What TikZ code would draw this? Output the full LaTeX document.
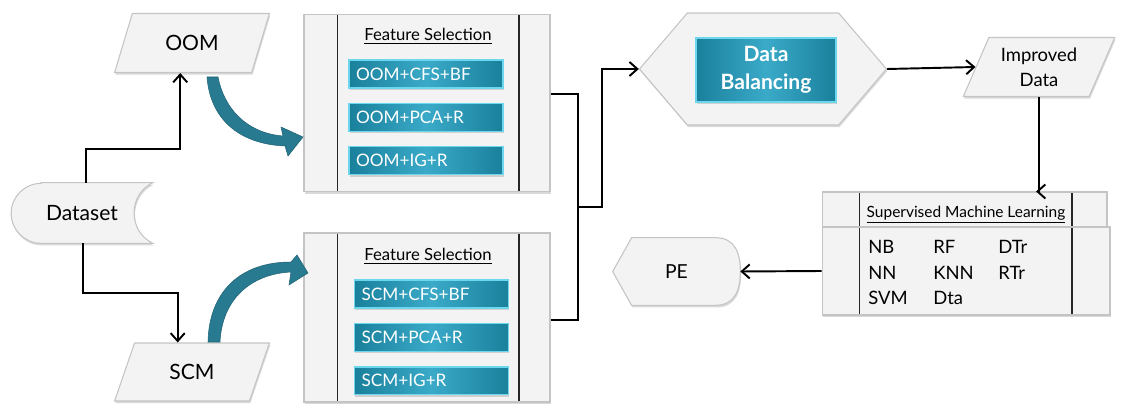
\documentclass[tikz,border=0pt]{standalone}
\usepackage{fontspec}
\setmainfont{Lato}
\usetikzlibrary{positioning,arrows.meta,calc,shapes.geometric,shapes.symbols,shadows}
\pgfdeclarelayer{background}
\pgfsetlayers{background,main}
\definecolor{boxgray}{RGB}{243,243,243}
\definecolor{edgegray}{RGB}{196,196,196}
\definecolor{tealdark}{RGB}{26,128,156}
\definecolor{tealmid}{RGB}{58,170,200}
\definecolor{tealedge}{RGB}{108,214,236}
\definecolor{arrteal}{RGB}{40,122,144}
\newcommand{\barleft}{33}
\newcommand{\barright}{31}

\begin{document}
\begin{tikzpicture}[x=0.02cm, y=-0.02cm,
    node distance=0.28cm,
    softbox/.style={fill=boxgray, draw=edgegray, line width=0.6pt,
      drop shadow={opacity=0.3, shadow xshift=0.5pt, shadow yshift=-1.2pt}},
    para/.style={softbox, trapezium, trapezium stretches=true,
      trapezium left angle=66, trapezium right angle=114,
      inner sep=1pt, align=center},
    barline/.style={draw=black!85, line width=0.6pt},
    bars/.style={path picture={
        \draw[barline] ($(path picture bounding box.north west)+(\barleft,0)$) -- ($(path picture bounding box.south west)+(\barleft,0)$);
        \draw[barline] ($(path picture bounding box.north east)-(\barright,0)$) -- ($(path picture bounding box.south east)-(\barright,0)$);}},
    fsbox/.style={softbox, rectangle, minimum width=4.92cm, bars},
    tealbox/.style={rectangle, draw=tealedge, line width=0.8pt, text=white,
      left color=tealdark, right color=tealdark, middle color=tealmid,
      drop shadow={opacity=0.3, shadow xshift=0.5pt, shadow yshift=-1pt}},
    fsitem/.style={tealbox, text width=2.8cm, minimum height=0.56cm,
      inner xsep=0.14cm, inner ysep=0pt, align=left,
      font=\fontsize{9.8}{11}\selectfont},
    headtxt/.style={font=\fontsize{9.5}{11}\selectfont, inner sep=1pt},
    algo/.style={anchor=west, inner sep=0pt, font=\fontsize{10.5}{12}\selectfont},
    link/.style={draw=black, line width=1.1pt},
    conn/.style={link, -{Straight Barb[length=4.5pt, width=8pt]}},
    curved/.style={fill=arrteal, draw=arrteal!80!black, line width=0.3pt}
  ]
    \useasboundingbox (0,0) rectangle (1130,412);

    \node[para, minimum width=3.1cm, minimum height=1.18cm, font=\large] (oom) at (192,43) {OOM};
    \node[para, minimum width=3.1cm, minimum height=1.16cm, font=\large] (scm) at (192,372) {SCM};
    \node[minimum width=2.82cm, minimum height=1.2cm, font=\large] (dataset) at (82,213) {Dataset};

    \node[fsbox, minimum height=3.54cm] (fs1) at (427,103) {};
    \node[headtxt] (fs1head) at (428,36) {\underline{Feature Selection}};
    \node[fsitem] (oomcfs) at (426,74) {OOM+CFS+BF};
    \node[fsitem, below=of oomcfs] (oompca) {OOM+PCA+R};
    \node[fsitem, below=of oompca] (oomig) {OOM+IG+R};

    \node[fsbox, minimum height=3.38cm] (fs2) at (427,317.5) {};
    \node[headtxt] (fs2head) at (428,256) {\underline{Feature Selection}};
    \node[fsitem] (scmcfs) at (431.5,294) {SCM+CFS+BF};
    \node[fsitem, below=of scmcfs] (scmpca) {SCM+PCA+R};
    \node[fsitem, below=of scmpca] (scmig) {SCM+IG+R};

    \node[softbox, signal, signal to=west and east, signal pointer angle=99,
      minimum width=4.94cm, minimum height=2.24cm] (bal) at (763,69) {};
    \node[tealbox, minimum width=2.8cm, minimum height=1.28cm, align=center,
      font=\bfseries\fontsize{12}{16}\selectfont] (baltxt) at (766,70) {Data\\Balancing};

    \node[para, trapezium left angle=64, trapezium right angle=116,
      minimum width=3.04cm, minimum height=1.18cm,
      font=\fontsize{10.5}{14}\selectfont] (impr) at (1039,67) {Improved\\Data};

    \renewcommand{\barleft}{37}\renewcommand{\barright}{35}
    \node[softbox, rectangle, minimum width=5.7cm, minimum height=0.7cm, bars] (smltop) at (964.5,209.5) {};
    \renewcommand{\barright}{38}
    \node[softbox, rectangle, minimum width=5.76cm, minimum height=1.76cm, bars] (sml) at (966,271) {};
    \node[headtxt, font=\fontsize{8.8}{10}\selectfont] (smlhead) at (966,215) {\underline{Supervised Machine Learning}};
    \node[algo] (nb) at (868,247) {NB};
    \node[algo] (rf) at (933,247) {RF};
    \node[algo] (dtr) at (998,247) {DTr};
    \node[algo] (nn) at (868,273) {NN};
    \node[algo] (knn) at (933,273) {KNN};
    \node[algo] (rtr) at (998,273) {RTr};
    \node[algo] (svm) at (868,298) {SVM};
    \node[algo] (dta) at (933,298) {Dta};

    \node[minimum width=2.54cm, minimum height=1.34cm, font=\fontsize{11}{13}\selectfont] (pe) at (676.5,271.5) {PE};

    \begin{pgfonlayer}{background}
      \filldraw[softbox] ($(dataset.north west)+(30,0)$) -- (dataset.north east)
        .. controls +(-25,12) and +(-25,-12) .. (dataset.south east)
        -- ($(dataset.south west)+(30,0)$) arc[start angle=270, end angle=90, radius=0.6cm] -- cycle;
      \filldraw[softbox] (pe.west) -- ($(pe.north west)+(19,0)$) -- ($(pe.north east)+(-25,0)$)
        .. controls +(20,0) and +(0,-18) .. (pe.east)
        .. controls +(0,18) and +(20,0) .. ($(pe.south east)+(-25,0)$)
        -- ($(pe.south west)+(19,0)$) -- cycle;
    \end{pgfonlayer}

    \fill[curved] (207,77) -- (218,77) .. controls (224,108) and (246,133) .. (283,136)
      -- (281,127) -- (303,137) -- (288,156) -- (285,146)
      .. controls (238,144) and (210,118) .. (207,77) -- cycle;
    \fill[curved] (208,342) .. controls (209,292) and (240,262) .. (291,262)
      -- (297,255) -- (308,273) -- (289,285) -- (291,272)
      .. controls (250,274) and (222,300) .. (220,342) -- cycle;

    \coordinate (join) at (578,207);
    \draw[conn] ($(dataset.north)+(4,0)$) -- ++(0,-34) -| ($(oom.bottom left corner)!0.48!(oom.bottom right corner)$);
    \draw[conn] ($(dataset.south)+(1,0)$) -- ++(0,50) -| ($(scm.top left corner)!0.32!(scm.top right corner)$);
    \draw[link] ($(fs1.east)+(0,-9)$) -| (join);
    \draw[link] ($(fs2.east)+(0,2.5)$) -| (join);
    \draw[conn] (join) -- ++(24,0) |- (bal.west);
    \draw[conn] (bal.east) -- (impr.west);
    \draw[conn] ($(impr.bottom left corner)!0.6!(impr.bottom right corner)$) |- ($(smltop.north west)!0.75!(smltop.north east)$);
    \draw[conn] (sml.west) -- (pe.east);
  \end{tikzpicture}
\end{document}
